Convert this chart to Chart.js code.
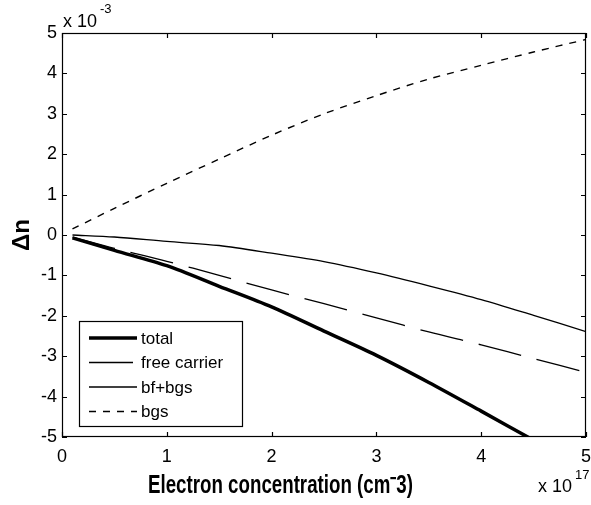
<!DOCTYPE html>
<html>
<head>
<meta charset="utf-8">
<script src="https://cdn.jsdelivr.net/npm/chart.js@4"></script>
<style>
  html, body { margin: 0; padding: 0; background: #fff; }
  #wrap { width: 591px; height: 505px; }
</style>
</head>
<body>
<div id="wrap"><canvas id="grafico"></canvas></div>
<script>
// electron concentration, x 10^17 cm^-3
const xValues = [0.1, 0.5, 1, 1.5, 2, 2.5, 3, 3.5, 4, 4.5, 5];
// delta n, x 10^-3
const totalValues = [-0.07, -0.38, -0.76, -1.27, -1.78, -2.38, -2.98, -3.65, -4.36, -5.08, null];
const freeCarrierValues = [-0.05, -0.33, -0.65, -1.0, -1.36, -1.70, -2.05, -2.40, -2.72, -3.06, -3.40];
const bfBgsValues = [0, -0.05, -0.16, -0.26, -0.45, -0.66, -0.94, -1.26, -1.60, -1.99, -2.39];
const bgsValues = [0.15, 0.66, 1.28, 1.88, 2.47, 3.0, 3.45, 3.86, 4.2, 4.53, 4.84];
const xTicks = [0, 1, 2, 3, 4, 5];
const yTicks = [-5, -4, -3, -2, -1, 0, 1, 2, 3, 4, 5];
const seriesNames = ['total', 'free carrier', 'bf+bgs', 'bgs'];

const FONT = '"Liberation Sans", Arial, sans-serif';
Chart.defaults.font.family = FONT;
Chart.defaults.color = '#000';

function pontos(valores) {
    return xValues.map((x, i) => ({ x: x, y: valores[i] }));
}

const estilos = [
    { width: 3.5, dash: [] },
    { width: 1.3, dash: [44, 16] },
    { width: 1.3, dash: [] },
    { width: 1.4, dash: [7, 7] }
];

const desenhoExtra = {
    id: 'desenhoExtra',
    afterDatasetsDraw(chart) {
        const ctx = chart.ctx;
        const a = chart.chartArea;
        const sx = chart.scales.x, sy = chart.scales.y;
        ctx.save();
        ctx.strokeStyle = '#000';
        ctx.lineWidth = 1.2;
        ctx.setLineDash([]);
        ctx.strokeRect(a.left + 0.5, a.top + 0.5, a.right - a.left - 1, a.bottom - a.top - 1);
        // ticks pointing into the plot
        ctx.beginPath();
        xTicks.forEach(t => {
            const px = Math.round(sx.getPixelForValue(t)) + 0.5;
            ctx.moveTo(px, a.bottom); ctx.lineTo(px, a.bottom - 5);
            ctx.moveTo(px, a.top); ctx.lineTo(px, a.top + 5);
        });
        yTicks.forEach(t => {
            const py = Math.round(sy.getPixelForValue(t)) + 0.5;
            ctx.moveTo(a.left, py); ctx.lineTo(a.left + 5, py);
            ctx.moveTo(a.right, py); ctx.lineTo(a.right - 5, py);
        });
        ctx.stroke();

        // legend
        const lx = 79, ly = 321, lw = 163, lh = 105;
        ctx.fillStyle = '#fff';
        ctx.fillRect(lx, ly, lw, lh);
        ctx.lineWidth = 1.2;
        ctx.strokeRect(lx + 0.5, ly + 0.5, lw, lh);
        ctx.font = '17px ' + FONT;
        ctx.fillStyle = '#000';
        ctx.textBaseline = 'middle';
        seriesNames.forEach((nome, i) => {
            const y = 338 + i * 24.5;
            ctx.lineWidth = estilos[i].width;
            ctx.setLineDash(estilos[i].dash);
            ctx.beginPath();
            ctx.moveTo(89, y); ctx.lineTo(137, y);
            ctx.stroke();
            ctx.fillText(nome, 141, y + 1);
        });
        ctx.setLineDash([]);

        // exponents
        ctx.textBaseline = 'alphabetic';
        ctx.font = '18px ' + FONT;
        ctx.fillText('x 10', 63, 27);
        ctx.font = '13px ' + FONT;
        ctx.fillText('-3', 100, 13);
        ctx.font = '18px ' + FONT;
        ctx.fillText('x 10', 538, 492);
        ctx.font = '13px ' + FONT;
        ctx.fillText('17', 575, 479);

        // x title, bold and condensed
        ctx.font = 'bold 25px ' + FONT;
        const titulo = 'Electron concentration (cm\u207B3)';
        const w = ctx.measureText(titulo).width;
        ctx.translate(148, 493);
        ctx.scale(265 / w, 1);
        ctx.fillText(titulo, 0, 0);
        ctx.restore();
    }
};

new Chart(document.getElementById('grafico'), {
    type: 'line',
    data: {
        datasets: seriesNames.map((nome, i) => ({
            label: nome,
            data: pontos([totalValues, freeCarrierValues, bfBgsValues, bgsValues][i]),
            borderColor: '#000',
            borderWidth: estilos[i].width,
            borderDash: estilos[i].dash
        }))
    },
    options: {
        responsive: true,
        maintainAspectRatio: false,
        animation: false,
        elements: { point: { radius: 0 }, line: { tension: 0.3, fill: false } },
        layout: { padding: { top: 33, right: 5, left: 0, bottom: 0 } },
        plugins: { legend: { display: false }, tooltip: { enabled: false } },
        scales: {
            x: {
                type: 'linear', min: 0, max: 5,
                afterFit: s => { s.height = 68; s.paddingRight = 0; s.paddingLeft = 0; },
                afterBuildTicks: s => { s.ticks = xTicks.map(v => ({ value: v })); },
                grid: { display: false, drawTicks: false },
                border: { display: false },
                ticks: { font: { size: 18 }, padding: 9, maxRotation: 0 }
            },
            y: {
                min: -5, max: 5,
                afterFit: s => { s.width = 62; s.paddingTop = 0; s.paddingBottom = 0; },
                afterBuildTicks: s => { s.ticks = yTicks.map(v => ({ value: v })); },
                grid: { display: false, drawTicks: false },
                border: { display: false },
                ticks: { font: { size: 18 }, padding: 5 },
                title: { display: true, text: '\u0394n', font: { size: 24, weight: 'bold' }, padding: { top: 8, bottom: 0 } }
            }
        }
    },
    plugins: [desenhoExtra]
});
</script>
</body>
</html>
